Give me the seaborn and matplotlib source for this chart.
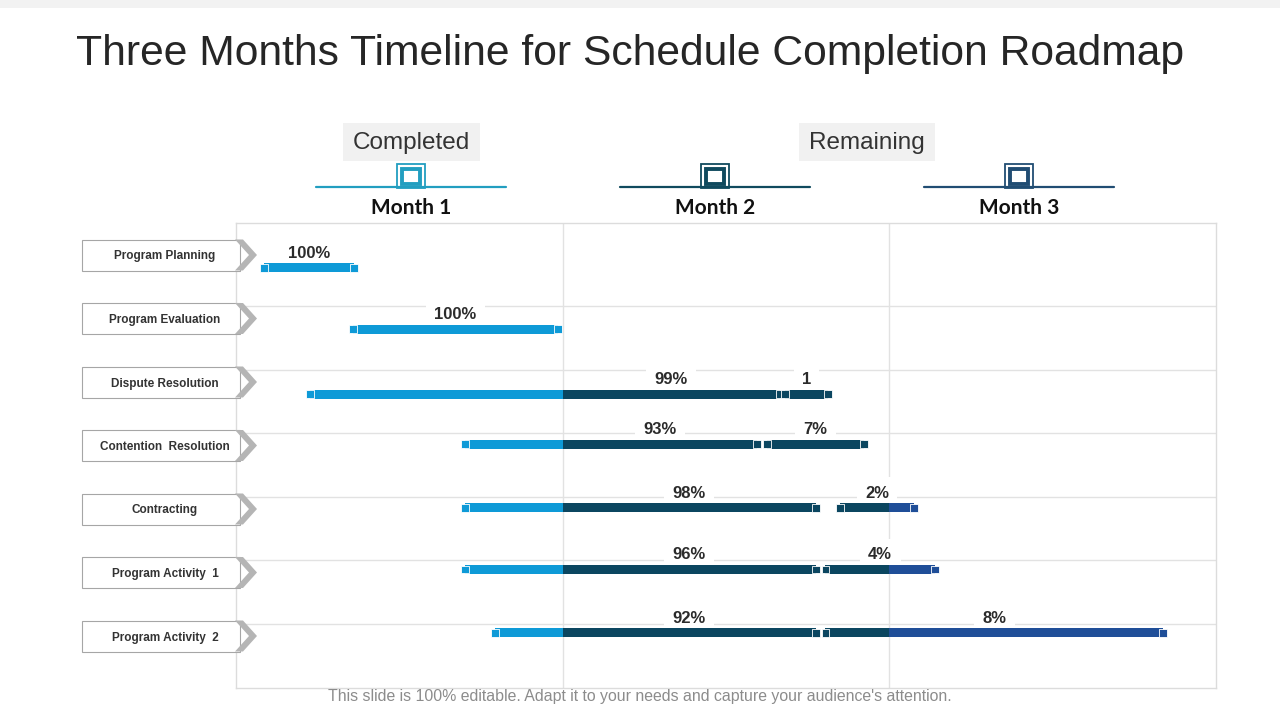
import numpy as np
import pandas as pd
import matplotlib
matplotlib.use('Agg')
import matplotlib.pyplot as plt
from matplotlib.patches import Rectangle, Polygon
import seaborn as sns

# data (months from the start of the plan)
tasks = ['Program Planning', 'Program Evaluation', 'Dispute Resolution',
         'Contention  Resolution', 'Contracting', 'Program Activity  1',
         'Program Activity  2']
months = ['Month 1', 'Month 2', 'Month 3']
done_start = [0.086, 0.358, 0.227, 0.701, 0.701, 0.701, 0.793]
done_end = [0.361, 0.986, 1.665, 1.595, 1.776, 1.776, 1.776]
left_start = [None, None, 1.681, 1.626, 1.849, 1.804, 1.804]
left_end = [None, None, 1.812, 1.922, 2.076, 2.140, 2.838]
done_label = ['100%', '100%', '99%', '93%', '98%', '96%', '92%']
left_label = [None, None, '1', '7%', '2%', '4%', '8%']

# layout / styles
bar_shift = [0.2, 0.17, 0.19, -0.02, -0.02, -0.05, -0.05]
bar_colors = ['#0e9ad7', '#0b4660', '#1f4e98']
head_colors = ['#229ec0', '#104a5e', '#214d73']
grid_c = '#e2e2e2'

sns.set_theme(style='white')
plt.rcParams['font.family'] = ['Liberation Sans', 'DejaVu Sans']

fig = plt.figure(figsize=(12.8, 7.2), dpi=100)
ax = fig.add_axes([236 / 1280, 1 - 688 / 720, 980 / 1280, 465 / 720])
ax.set_xlim(0, 3)
ax.set_ylim(6.819, -0.504)
ax.set_xticks([])
ax.set_yticks([])
for sp in ax.spines.values():
    sp.set_color('#dcdcdc')
    sp.set_linewidth(1)
for m in [1, 2]:
    ax.axvline(m, color=grid_c, lw=1, zorder=0.5)
for i in range(1, len(tasks)):
    ax.axhline(i - 0.19, color=grid_c, lw=1, zorder=0.5)

caps = []
for i in range(len(tasks)):
    y = i + bar_shift[i]
    parts = [(done_start[i], done_end[i], done_label[i], True),
             (left_start[i], left_end[i], left_label[i], False)]
    for s, e, lab, is_done in parts:
        if lab is None:
            continue
        edges = [s] + [b for b in (1, 2) if s < b < e] + [e]
        for a, b in zip(edges[:-1], edges[1:]):
            ax.barh(y, b - a, left=a, height=0.14, color=bar_colors[int(a)],
                    edgecolor='none', linewidth=0, zorder=2)
        caps.append((s, y, months[int(s)]))
        caps.append((e, y, months[int(np.floor(e - 1e-9))]))
        if is_done:
            lx = (max(s, np.floor(e)) + e) / 2
        else:
            lx = (s + e) / 2
        ax.text(lx, y - 0.23, lab, ha='center', va='center', fontsize=12,
                fontweight='bold', color='#2b2b2b', zorder=1.5,
                bbox=dict(boxstyle='square,pad=0.5', fc='white', ec='none'))

caps_df = pd.DataFrame(caps, columns=['x', 'y', 'month'])
sns.scatterplot(data=caps_df, x='x', y='y', hue='month', hue_order=months,
                palette=dict(zip(months, bar_colors)), marker='s', s=30,
                edgecolor='white', linewidth=0.6, legend=False, zorder=3, ax=ax)
ax.set_xlabel('')
ax.set_ylabel('')

# decorations in pixel space
ov = fig.add_axes([0, 0, 1, 1], zorder=5)
ov.set_xlim(0, 1280)
ov.set_ylim(720, 0)
ov.axis('off')
ov.patch.set_alpha(0)

ov.add_patch(Rectangle((0, 0), 1280, 8, fc='#f2f2f2', ec='none'))
ov.text(630, 54, 'Three Months Timeline for Schedule Completion Roadmap',
        ha='center', va='center', fontsize=30.7, color='#262626')

for x0, w, txt in [(343, 137, 'Completed'), (799, 136, 'Remaining')]:
    ov.add_patch(Rectangle((x0, 123), w, 38, fc='#f1f1f1', ec='none'))
    ov.text(x0 + w / 2, 143, txt, ha='center', va='center', fontsize=17.5,
            color='#333333')

for k, name in enumerate(months):
    c = 411 + 304 * k
    col = head_colors[k]
    ov.plot([c - 95, c + 95], [187, 187], color=col, lw=1.6)
    ov.add_patch(Rectangle((c - 14, 164), 28, 24, fc='white', ec=col, lw=1.3))
    ov.add_patch(Rectangle((c - 9, 168.5), 18, 15.5, fc='white', ec=col, lw=2.8))
    ov.text(c, 208, name, ha='center', va='center', fontsize=15,
            fontweight='bold', color='#111111', family=['Lato', 'DejaVu Sans'])

for i, t in enumerate(tasks):
    yc = 255 + 63.5 * i
    top = yc - 15.5
    ov.add_patch(Rectangle((82, top), 158, 31, fc='white', ec='#a6a6a6', lw=0.8))
    ov.add_patch(Polygon([(235, top), (243, top), (257, yc), (243, top + 31),
                          (235, top + 31), (249, yc)], closed=True,
                         fc='#b5b5b5', ec='none'))
    ov.text(165, yc + 1.5, t, ha='center', va='center', fontsize=8.5,
            fontweight='bold', color='#333333')

ov.text(640, 697, "This slide is 100% editable. Adapt it to your needs and "
        "capture your audience's attention.", ha='center', va='center',
        fontsize=11.4, color='#8c8c8c')

fig.savefig('out.png', dpi=100)
